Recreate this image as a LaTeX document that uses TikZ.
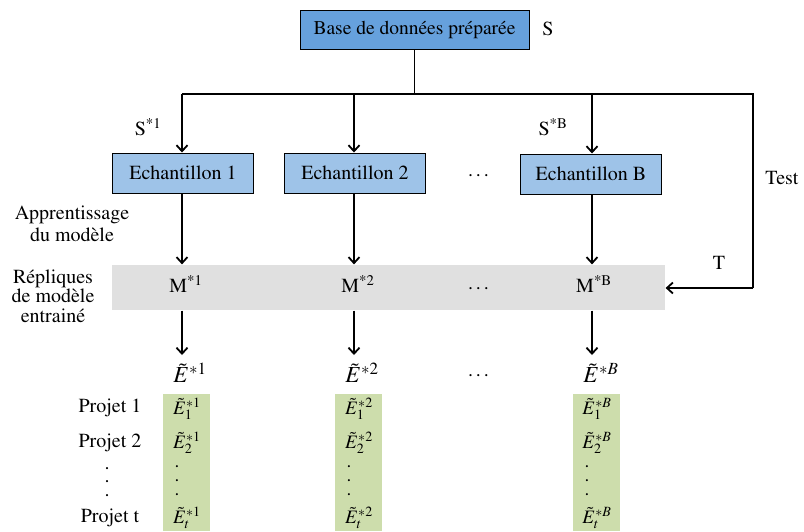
\documentclass[tikz,border=0pt]{standalone}
\usepackage[T1]{fontenc}
\usepackage{mathptmx}
\usetikzlibrary{arrows.meta}

\definecolor{baseblue}{RGB}{102,161,221}
\definecolor{echblue}{RGB}{158,195,232}
\definecolor{bandgray}{RGB}{224,224,224}
\definecolor{colgreen}{RGB}{205,221,172}

\tikzset{
  basebox/.style={draw=black, line width=1pt, fill=baseblue, minimum width=229, minimum height=39, inner sep=0pt, font=\fontsize{19.5}{20}\selectfont},
  echbox/.style={draw=black, line width=1pt, fill=echblue, minimum width=141, minimum height=40, inner sep=0pt},
  colbox/.style={fill=colgreen, minimum width=47, minimum height=137, inner sep=0pt},
  entry/.style={inner sep=0pt, font=\fontsize{19}{20}\selectfont},
  bigE/.style={font=\fontsize{23}{24}\selectfont},
  arr/.style={-{Straight Barb[length=6pt, width=11pt, line width=1.8pt]}},
}

\begin{document}
\begin{tikzpicture}[x=1pt, y=-1pt, line width=1.2pt, font=\fontsize{20}{21}\selectfont]
        \useasboundingbox (0,0) rectangle (804,531);

        \node[basebox] (base) at (414.5,29.5) {Base de données préparée};
        \node (S) at (548,29) {S};
        \node[fill=bandgray, minimum width=553, minimum height=45, inner sep=0pt] (band) at (388.5,287.5) {};

        \coordinate (left) at (182,94);
        \coordinate (right) at (753,94);
        \coordinate (corner) at (753,288);
        \draw (base.south) -- (base.south |- left);
        \draw (left) -- (right) -- (corner);
        \draw[arr] (corner) -- (band.east |- corner);

        \node (S1) at (148,127) {S\textsuperscript{*1}};
        \node (SB) at (553,127) {S\textsuperscript{*B}};
        \node (test) at (782,178) {Test};
        \node (T) at (719,263) {T};
        \node[align=center, font=\fontsize{20}{22}\selectfont] (learn) at (72,224) {Apprentissage\\du modèle};
        \node[align=center, font=\fontsize{20}{19.5}\selectfont] (repl) at (53,296) {Répliques\\de modèle\\entrainé};

        \node (echdots) at (480,176) {\dots};
        \node (mdots) at (480,289) {\dots};
        \node (edots) at (480,376) {\dots};

        \node (p1) at (110,408) {Projet 1};
        \node (p2) at (110,443) {Projet 2};
        \node (pd1) at (107,469) {.};
        \node (pd2) at (107,482) {.};
        \node (pd3) at (107,496) {.};
        \node (pt) at (110,518) {Projet t};

        \begin{scope}[shift={(0,0)}]
        \coordinate (top) at (182,94);
        \node[echbox] (ech) at (183,173) {Echantillon 1};
        \node (m) at (186,284) {M\textsuperscript{*1}};
        \node[bigE] (ebig) at (190,373) {$\tilde{E}^{*1}$};
        \node[colbox] (col) at (186.5,462.5) {};
        \node[entry] (e1) at (187,409) {$\tilde{E}^{*1}_{1}$};
        \node[entry] (e2) at (187,443) {$\tilde{E}^{*1}_{2}$};
        \node[entry] (d1) at (177,467) {.};
        \node[entry] (d2) at (177,481) {.};
        \node[entry] (d3) at (177,495) {.};
        \node[entry] (et) at (187,518) {$\tilde{E}^{*1}_{t}$};

        \draw[arr] (top) -- (top |- ech.north);
        \draw[arr] (top |- ech.south) -- (top |- band.north);
        \draw[arr] (top |- band.south) -- (top |- 0,355);
        \end{scope}

        \begin{scope}[shift={(172,0)}]
        \coordinate (top) at (182,94);
        \node[echbox] (ech) at (183,173) {Echantillon 2};
        \node (m) at (186,284) {M\textsuperscript{*2}};
        \node[bigE] (ebig) at (190,373) {$\tilde{E}^{*2}$};
        \node[colbox] (col) at (186.5,462.5) {};
        \node[entry] (e1) at (187,409) {$\tilde{E}^{*2}_{1}$};
        \node[entry] (e2) at (187,443) {$\tilde{E}^{*2}_{2}$};
        \node[entry] (d1) at (177,467) {.};
        \node[entry] (d2) at (177,481) {.};
        \node[entry] (d3) at (177,495) {.};
        \node[entry] (et) at (187,518) {$\tilde{E}^{*2}_{t}$};

        \draw[arr] (top) -- (top |- ech.north);
        \draw[arr] (top |- ech.south) -- (top |- band.north);
        \draw[arr] (top |- band.south) -- (top |- 0,355);
        \end{scope}

        \begin{scope}[shift={(410,0)}]
        \coordinate (top) at (182,94);
        \node[echbox] (ech) at (181,174) {Echantillon B};
        \node (m) at (184,284) {M\textsuperscript{*B}};
        \node[bigE] (ebig) at (191,373) {$\tilde{E}^{*B}$};
        \node[colbox] (col) at (186.5,462.5) {};
        \node[entry] (e1) at (187,409) {$\tilde{E}^{*B}_{1}$};
        \node[entry] (e2) at (187,443) {$\tilde{E}^{*B}_{2}$};
        \node[entry] (d1) at (177,467) {.};
        \node[entry] (d2) at (177,481) {.};
        \node[entry] (d3) at (177,495) {.};
        \node[entry] (et) at (187,518) {$\tilde{E}^{*B}_{t}$};

        \draw[arr] (top) -- (top |- ech.north);
        \draw[arr] (top |- ech.south) -- (top |- band.north);
        \draw[arr] (top |- band.south) -- (top |- 0,355);
        \end{scope}
\end{tikzpicture}
\end{document}
